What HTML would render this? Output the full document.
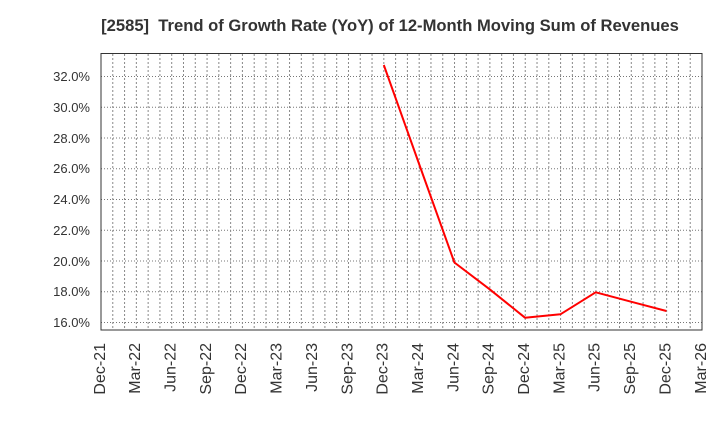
<!DOCTYPE html>
<html><head><meta charset="utf-8"><style>
html,body{margin:0;padding:0;background:#fff;}
svg{display:block;}
text{font-family:"Liberation Sans",Arial,sans-serif;fill:#333;}
</style></head><body>
<svg width="720" height="440" viewBox="0 0 720 440" xmlns="http://www.w3.org/2000/svg">
<rect width="720" height="440" fill="#fff"/>
<text x="390" y="31" font-size="16.6" font-weight="bold" text-anchor="middle" xml:space="preserve">[2585]  Trend of Growth Rate (YoY) of 12-Month Moving Sum of Revenues</text>
<g stroke="#777" stroke-width="1" stroke-dasharray="1,2">
<line x1="101" x2="702" y1="322.5" y2="322.5"/>
<line x1="101" x2="702" y1="291.75" y2="291.75"/>
<line x1="101" x2="702" y1="261" y2="261"/>
<line x1="101" x2="702" y1="230.25" y2="230.25"/>
<line x1="101" x2="702" y1="199.5" y2="199.5"/>
<line x1="101" x2="702" y1="168.75" y2="168.75"/>
<line x1="101" x2="702" y1="138" y2="138"/>
<line x1="101" x2="702" y1="107.25" y2="107.25"/>
<line x1="101" x2="702" y1="76.5" y2="76.5"/>
</g>
<path fill="none" stroke="#888" stroke-width="1" stroke-dasharray="2,2" d="M112.78 54V330M124.57 54V330M136.35 54V330M148.14 54V330M159.92 54V330M171.71 54V330M183.49 54V330M195.27 54V330M207.06 54V330M218.84 54V330M230.63 54V330M242.41 54V330M254.2 54V330M265.98 54V330M277.76 54V330M289.55 54V330M301.33 54V330M313.12 54V330M324.9 54V330M336.69 54V330M348.47 54V330M360.25 54V330M372.04 54V330M383.82 54V330M395.61 54V330M407.39 54V330M419.18 54V330M430.96 54V330M442.75 54V330M454.53 54V330M466.31 54V330M478.1 54V330M489.88 54V330M501.67 54V330M513.45 54V330M525.24 54V330M537.02 54V330M548.8 54V330M560.59 54V330M572.37 54V330M584.16 54V330M595.94 54V330M607.73 54V330M619.51 54V330M631.29 54V330M643.08 54V330M654.86 54V330M666.65 54V330M678.43 54V330M690.22 54V330"/>
<rect x="101" y="53.5" width="601" height="276.5" fill="none" stroke="#333" stroke-width="1"/>
<g font-size="13" text-anchor="end">
<text x="90" y="327">16.0%</text>
<text x="90" y="296">18.0%</text>
<text x="90" y="266">20.0%</text>
<text x="90" y="235">22.0%</text>
<text x="90" y="204">24.0%</text>
<text x="90" y="173">26.0%</text>
<text x="90" y="143">28.0%</text>
<text x="90" y="112">30.0%</text>
<text x="90" y="81">32.0%</text>
</g>
<g font-size="16" text-anchor="end">
<text transform="translate(104.8,343) rotate(-90)">Dec-21</text>
<text transform="translate(140.15,343) rotate(-90)">Mar-22</text>
<text transform="translate(175.51,343) rotate(-90)">Jun-22</text>
<text transform="translate(210.86,343) rotate(-90)">Sep-22</text>
<text transform="translate(246.21,343) rotate(-90)">Dec-22</text>
<text transform="translate(281.56,343) rotate(-90)">Mar-23</text>
<text transform="translate(316.92,343) rotate(-90)">Jun-23</text>
<text transform="translate(352.27,343) rotate(-90)">Sep-23</text>
<text transform="translate(387.62,343) rotate(-90)">Dec-23</text>
<text transform="translate(422.98,343) rotate(-90)">Mar-24</text>
<text transform="translate(458.33,343) rotate(-90)">Jun-24</text>
<text transform="translate(493.68,343) rotate(-90)">Sep-24</text>
<text transform="translate(529.04,343) rotate(-90)">Dec-24</text>
<text transform="translate(564.39,343) rotate(-90)">Mar-25</text>
<text transform="translate(599.74,343) rotate(-90)">Jun-25</text>
<text transform="translate(635.09,343) rotate(-90)">Sep-25</text>
<text transform="translate(670.45,343) rotate(-90)">Dec-25</text>
<text transform="translate(705.8,343) rotate(-90)">Mar-26</text>
</g>
<polyline fill="none" stroke="#ff0000" stroke-width="2" stroke-linejoin="round" points="383.8,65 419.1,164 454.4,262.5 489.7,289.3 525,317.7 560.4,314.3 595.7,292.3 631,301.7 666.4,311"/>
</svg>
</body></html>
